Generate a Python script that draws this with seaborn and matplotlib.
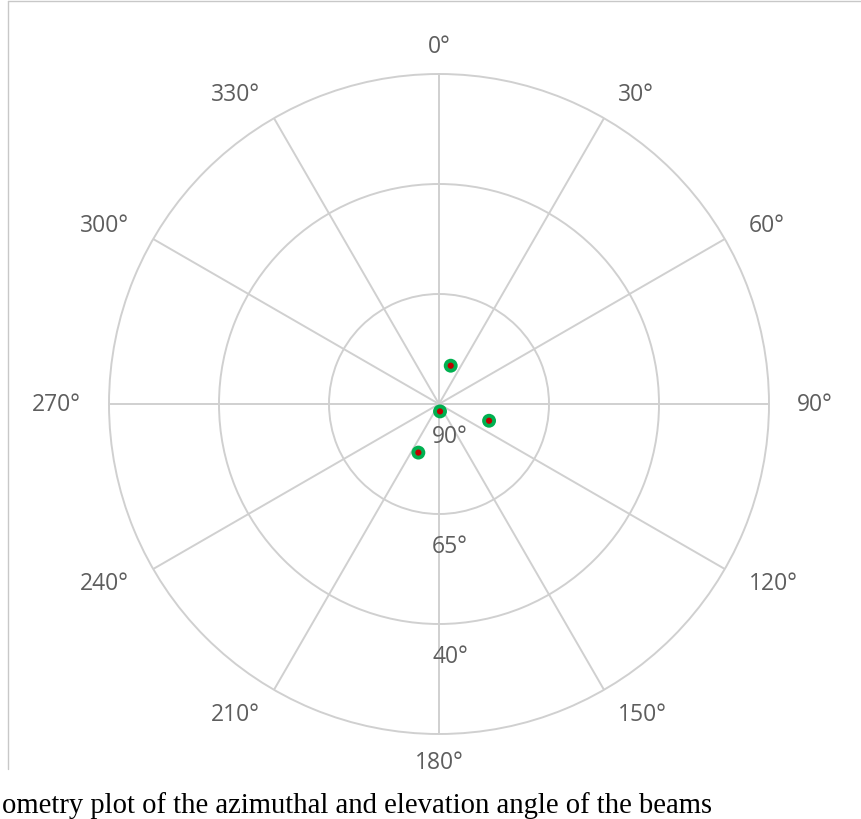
import numpy as np
import matplotlib
matplotlib.use("Agg")
import matplotlib.pyplot as plt
from matplotlib.transforms import offset_copy
from matplotlib.lines import Line2D
import seaborn as sns
import pandas as pd

# Beam geometry: azimuth (deg, clockwise from north) and elevation (deg)
beam_azimuth = [17.0, 172.2, 108.5, 203.0]
beam_elevation = [80.9, 88.3, 78.0, 78.0]

azimuth_ticks = list(range(0, 360, 30))
azimuth_labels = [f"{a}°" for a in azimuth_ticks]
elevation_ticks = [90, 65, 40]
elevation_labels = [f"{e}°" for e in elevation_ticks]
elevation_min = 15

caption = "ometry plot of the azimuthal and elevation angle of the beams"

sns.set_style("white")
plt.rcParams["font.family"] = ["Open Sans", "DejaVu Sans"]

W, H = 861, 820
fig = plt.figure(figsize=(W / 100, H / 100), dpi=100)
cx, cy, R = 439, 405, 330
ax = fig.add_axes([(cx - R) / W, (H - cy - R) / H, 2 * R / W, 2 * R / H],
                  projection="polar")
ax.set_theta_zero_location("N")
ax.set_theta_direction(-1)
ax.set_ylim(90, elevation_min)

grid_color = "#d0d0d0"
ax.set_thetagrids(azimuth_ticks, labels=[])
ax.set_rgrids(elevation_ticks[1:], labels=[])
ax.grid(True, color=grid_color, linewidth=1.4)
ax.spines["polar"].set_color(grid_color)
ax.spines["polar"].set_linewidth(1.4)
ax.tick_params(length=0)

df = pd.DataFrame({"theta": np.deg2rad(beam_azimuth), "elev": beam_elevation})
sns.scatterplot(data=df, x="theta", y="elev", ax=ax, s=100, color="#00b050",
                edgecolor="none", zorder=5, legend=False)
sns.scatterplot(data=df, x="theta", y="elev", ax=ax, s=20, color="#c00000",
                edgecolor="none", zorder=6, legend=False)
ax.set_xlabel("")
ax.set_ylabel("")

label_color = "#5e5e5e"
fs = 16.5
pad = 28
for a, lab in zip(azimuth_ticks, azimuth_labels):
    s, c = np.sin(np.deg2rad(a)), np.cos(np.deg2rad(a))
    ha = "left" if s > 0.01 else ("right" if s < -0.01 else "center")
    tr = offset_copy(ax.transData, fig=fig, x=pad * s, y=pad * c, units="dots")
    ax.text(np.deg2rad(a), elevation_min, lab, transform=tr, ha=ha, va="center",
            fontsize=fs, color=label_color, clip_on=False)

for e, lab in zip(elevation_ticks, elevation_labels):
    tr = offset_copy(ax.transData, fig=fig, x=11, y=-32, units="dots")
    ax.text(np.pi, e, lab, transform=tr, ha="center", va="center",
            fontsize=fs, color=label_color, clip_on=False)

# thin frame at the top and left edges
frame = "#c8c8c8"
fig.add_artist(Line2D([8 / W, 8 / W], [1 - 2 / H, 1 - 770 / H],
                      transform=fig.transFigure, color=frame, linewidth=1))
fig.add_artist(Line2D([8 / W, 1], [1 - 2 / H, 1 - 2 / H],
                      transform=fig.transFigure, color=frame, linewidth=1))

fig.text(2 / W, 7 / H, caption, ha="left", va="baseline", fontsize=20.6,
         family=["Liberation Serif", "DejaVu Serif"], color="black")

fig.savefig("out.png", dpi=100)
